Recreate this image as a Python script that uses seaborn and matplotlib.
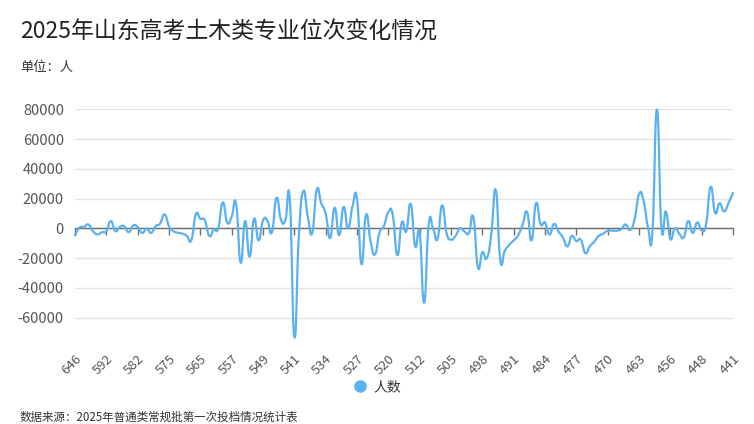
import numpy as np
import pandas as pd
import seaborn as sns
import matplotlib.pyplot as plt
from matplotlib.lines import Line2D

# score categories (x axis), one label shown every 7 categories
scores = [
    646, 629, 617, 610, 603, 598, 595,
    592, 590, 589, 587, 586, 584, 583,
    582, 581, 580, 579, 578, 577, 576,
    575, 574, 572, 571, 569, 568, 566,
    565, 564, 563, 562, 561, 560, 559,
    557, 556, 555, 554, 553, 552, 551,
    549, 548, 547, 546, 545, 544, 543,
    541, 540, 539, 538, 537, 536, 535,
    534, 533, 532, 531, 530, 529, 528,
    527, 526, 525, 524, 523, 522, 521,
    520, 519, 518, 517, 516, 515, 514,
    512, 511, 510, 509, 508, 507, 506,
    505, 504, 503, 502, 501, 500, 499,
    498, 497, 496, 495, 494, 493, 492,
    491, 490, 489, 488, 487, 486, 485,
    484, 483, 482, 481, 480, 479, 478,
    477, 476, 475, 474, 473, 472, 471,
    470, 469, 468, 467, 466, 465, 464,
    463, 462, 461, 460, 459, 458, 457,
    456, 455, 454, 453, 452, 451, 450,
    448, 447, 446, 445, 444, 443, 442,
    441,
]

# rank change (人数)
counts = [
    -4700, 500, 1000, 2700, -1800, -4000, -2500,
    -1800, 5000, -1800, 1000, 1500, -2500, 2000,
    1000, -3000, 0, -3000, 1500, 3300, 9500,
    1500, -1800, -2900, -3500, -5000, -7800, 9500,
    6500, 5500, -5000, -700, 0, 17500, 4000,
    8000, 16500, -23000, 5000, -19000, 6500, -8000,
    5500, 5000, -2500, 20500, 6000, 5500, 19000,
    -73000, -5000, 25000, 8000, -3000, 26000, 17000,
    10000, -6500, 14000, -4500, 14500, 0, 15000,
    20000, -24000, 9000, -8000, -17500, -3000, 1500,
    11000, 9000, -18000, 4000, -2000, 16500, -12000,
    -3000, -50000, 2500, 0, -7000, 15500, -3000,
    -7500, -5000, 0, -2000, -3000, 7500, -26000,
    -16000, -20000, -4000, 26000, -21000, -15000, -11000,
    -8000, -4500, 2500, 11000, -8000, 17000, 3000,
    4000, -4000, 3000, -2000, -6000, -12000, -5000,
    -8500, -7500, -16500, -12000, -9000, -5000, -3500,
    -1500, -1500, -1500, -500, 2700, -1000, 6000,
    23000, 19000, 1000, -2500, 80000, 1000, 11500,
    -7000, 0, -3500, -6000, 5000, -3000, 4000,
    -1000, 3000, 28000, 10500, 17000, 11500, 17000,
    24000,
]

y_ticks = [-60000, -40000, -20000, 0, 20000, 40000, 60000, 80000]

title = '2025年山东高考土木类专业位次变化情况'
unit = '单位：人'
source = '数据来源：2025年普通类常规批第一次投档情况统计表'
series_name = '人数'
line_color = '#5ab1ef'
label_color = '#555555'
axis_color = '#6e6e6e'


def smooth_curve(xs, ys, s=0.25, n=12):
    """
    Bezier smoothing of a polyline, like a smoothed line chart.
    """
    pts = np.column_stack([xs, ys]).astype(float)
    out = []
    t = np.linspace(0, 1, n, endpoint=False)[:, None]
    for i in range(len(pts) - 1):
        p0, p3 = pts[i], pts[i + 1]
        prev = pts[i - 1] if i > 0 else pts[i]
        nxt = pts[i + 2] if i + 2 < len(pts) else pts[i + 1]
        c1 = p0 + s * (p3 - prev)
        c2 = p3 - s * (nxt - p0)
        seg = (1 - t) ** 3 * p0 + 3 * (1 - t) ** 2 * t * c1 + 3 * (1 - t) * t ** 2 * c2 + t ** 3 * p3
        out.append(seg)
    out.append(pts[-1:])
    return np.vstack(out)


sns.set_theme(style='white')
plt.rcParams['font.family'] = ['Noto Sans CJK SC', 'DejaVu Sans']
plt.rcParams['axes.unicode_minus'] = False

df = pd.DataFrame({'pos': np.arange(len(scores)), 'score': scores, 'count': counts})
curve = smooth_curve(df['pos'], df['count'])

fig = plt.figure(figsize=(7.54, 4.24), dpi=100)
ax = fig.add_axes([75 / 754, 84 / 424, 658 / 754, 230.5 / 424])

ymin, ymax = -75000, 80000
ax.axhline(0, color=axis_color, linewidth=1, zorder=1.5)
sns.lineplot(x=curve[:, 0], y=curve[:, 1], sort=False, estimator=None,
             color=line_color, linewidth=1.6, ax=ax, zorder=3)
for line in ax.lines:
    line.set_clip_on(False)

ax.set_xlim(0, len(scores) - 1)
ax.set_ylim(ymin, ymax)
ax.set_yticks(y_ticks)
ax.set_yticklabels([str(v) for v in y_ticks])
ax.grid(axis='y', color='#e3e3e3', linewidth=1)
ax.grid(axis='x', visible=False)
for sp in ax.spines.values():
    sp.set_visible(False)

tick_pos = df['pos'][::7].tolist()
ax.set_xticks(tick_pos)
ax.set_xticklabels(df['score'][::7].tolist(), rotation=45, ha='right',
                   rotation_mode='anchor')
ax.tick_params(axis='x', length=0, pad=9, labelsize=9.5, labelcolor=label_color)
ax.tick_params(axis='y', length=0, pad=8, labelsize=10.5, labelcolor=label_color)
ax.set_xlabel('')
ax.set_ylabel('')

# tick marks along the zero line
zero_frac = (0 - ymin) / (ymax - ymin)
sec = ax.secondary_xaxis(zero_frac)
sec.set_xticks(tick_pos)
sec.set_xticklabels([])
sec.tick_params(length=5, width=1, color=axis_color, direction='out')
for sp in sec.spines.values():
    sp.set_visible(False)

fig.text(20 / 754, 1 - 32 / 424, title, fontsize=16.5, color='#222222', va='center', ha='left')
fig.text(20 / 754, 1 - 67 / 424, unit, fontsize=9.5, color='#333333', va='center', ha='left')
fig.text(20 / 754, 1 - 417 / 424, source, fontsize=8.3, color='#333333', va='center', ha='left')

handle = Line2D([], [], marker='o', linestyle='', color=line_color, markersize=8)
fig.legend(handles=[handle], labels=[series_name], loc='center',
           bbox_to_anchor=(0.5, 1 - 387 / 424), frameon=False, fontsize=10,
           handlelength=1.0, handletextpad=0.5, labelcolor='#333333')

fig.savefig('out.png', dpi=100)
